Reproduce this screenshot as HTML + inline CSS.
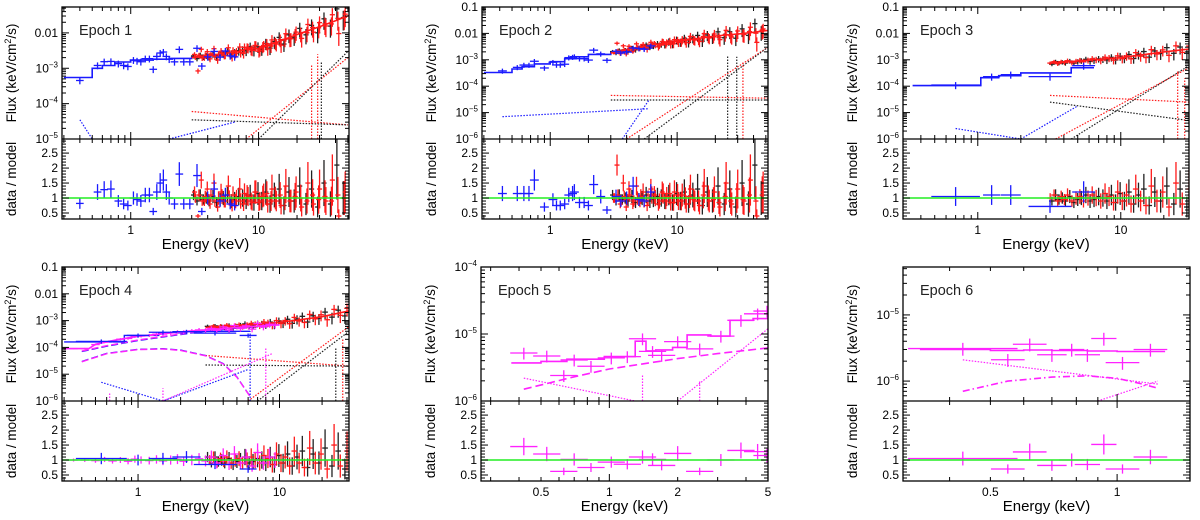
<!DOCTYPE html>
<html><head><meta charset="utf-8">
<style>
html,body{margin:0;padding:0;background:#fff;}
svg{display:block;font-family:"Liberation Sans",sans-serif;}
</style></head>
<body>
<svg id="fig" width="1200" height="520" viewBox="0 0 1200 520" xmlns="http://www.w3.org/2000/svg"></svg>
<script>
// ---------------- DATA ----------------
const nuGrid = [3.1,3.3,3.5,3.7,3.9,4.1,4.4,4.7,5,5.3,5.7,6.1,6.5,7,7.5,8,8.6,9.2,9.9,10.6,11.4,12.3,13.3,14.5,15.8,17.3,19,21,23.5,26,29,32.5,36.5,41,46];
const ratioBlackA = [1.1,0.9,1.1,0.95,1.0,0.9,1.05,0.85,0.95,1.0,1.1,0.9,0.95,1.05,1.0,0.9,1.1,0.85,1.15,0.9,1.2,0.8,1.1,1.3,0.75,1.2,0.9,1.4,0.8,1.3,0.7,1.5,0.8,2.1,1.0];
const ratioRedA = [1.0,1.1,0.9,1.05,0.95,1.1,0.9,1.0,1.05,0.9,1.0,1.1,1.0,0.9,1.15,1.05,0.85,1.2,0.9,1.1,0.8,1.3,0.9,0.75,1.4,0.9,1.2,0.7,1.5,0.8,1.3,0.9,1.6,0.4,1.2];

// Epoch 1
const e1BlueE = [0.4,0.55,0.62,0.7,0.8,0.88,0.95,1.05,1.12,1.2,1.3,1.4,1.5,1.6,1.7,1.8,1.9,2.0,2.2,2.4,2.6,2.9,3.3,3.6,4.0,4.5,5.0,5.5,6.0,6.5];
const e1BlueR = [0.82,1.2,1.28,1.3,0.9,0.8,0.75,1.0,0.95,0.9,1.1,1.1,0.55,1.2,1.5,1.6,1.2,1.0,0.8,1.8,0.8,0.8,1.75,0.55,1.0,1.3,0.9,1.1,0.8,0.75];
const e1BlueModelEdges = [0.3,0.5,0.6,0.75,1,1.5,2,3,4,5,6.5];
const e1BlueModelF = [5.5e-4,1e-3,1.2e-3,1.5e-3,1.7e-3,1.8e-3,1.9e-3,2.1e-3,2.3e-3,2.8e-3];
const e1NuModelE = [3,5,7,8,9,10,12,15,20,30,40,52];
const e1NuModelF = [2e-3,2.5e-3,3e-3,3.5e-3,3.8e-3,3.5e-3,4.5e-3,6e-3,9e-3,1.5e-2,2.2e-2,3.2e-2];

// Epoch 2
const e2BlueE = [0.42,0.55,0.62,0.68,0.75,0.9,1.05,1.12,1.2,1.3,1.4,1.5,1.55,1.7,1.85,2.0,2.2,2.5,2.8,3.3,3.6,4,4.5,5,5.5,6.2];
const e2BlueR = [1.15,1.15,1.15,1.15,1.6,0.7,0.95,0.75,0.75,0.8,1.1,1.15,1.2,0.85,0.85,0.75,1.45,1.05,0.6,1.05,0.9,1.0,1.4,0.95,0.9,1.2];
const e2BlueModelEdges = [0.3,0.5,0.6,0.75,1,1.3,1.6,2,3,4.5,6.5];
const e2BlueModelF = [3.3e-4,4.5e-4,5.5e-4,7e-4,8.5e-4,1.1e-3,1.3e-3,1.6e-3,2e-3,2.8e-3];
const e2NuModelE = [3,5,10,20,30,40,52];
const e2NuModelF = [1.8e-3,3e-3,5e-3,8e-3,9.5e-3,1.1e-2,1.3e-2];

// Epoch 3
const e3BlueE = [0.7,1.25,1.7,3.2,5.5];
const e3BlueR = [1.05,1.1,1.1,0.72,1.2];
const e3BlueModelEdges = [0.35,1.05,1.4,2,4.5,6.5];
const e3BlueModelF = [1.05e-4,2.1e-4,2.5e-4,3.2e-4,5e-4];
const e3NuModelE = [3.2,5,10,20,31];
const e3NuModelF = [7.5e-4,9e-4,1.2e-3,2e-3,2.6e-3];

// Epoch 4
const e4BlueE = [0.55,1.0,1.5,2.2,3.5,6.0];
const e4BlueR = [1.05,1.0,1.05,1.1,0.85,0.7];
const e4BlueModelEdges = [0.3,0.55,0.8,1.4,2.2,3.0,6.2];
const e4BlueModelF = [1.6e-4,1.6e-4,2.8e-4,3.5e-4,4e-4,4e-4];
const e4MagE = [0.35,0.42,0.5,0.58,0.66,0.75,0.85,0.95,1.05,1.2,1.35,1.5,1.7,1.9,2.1,2.4,2.7,3.0,3.3,3.6,4.0,4.4,4.8,5.3,5.8,6.4,7.0,7.7,8.5,9.3];
const e4MagR = [1.0,1.0,0.98,1.02,0.97,1.0,0.96,1.03,1.0,0.98,1.02,0.97,1.0,1.03,0.96,1.0,1.04,0.97,1.1,0.9,1.15,0.85,1.2,0.9,1.1,0.8,1.25,0.9,1.1,1.0];
const e4MagModelE = [0.3,0.45,0.5,0.7,1,2,3,5,8,10];
const e4MagModelF = [9e-5,9e-5,1.3e-4,1.9e-4,2.6e-4,3.8e-4,4.5e-4,5.5e-4,6.5e-4,7e-4];
const e4NuModelE = [3,5,10,20,31];
const e4NuModelF = [5.5e-4,6.5e-4,8.5e-4,1.4e-3,2.3e-3];
const e4BumpE = [0.4,0.6,1,1.5,2,3,4,5,6.2];
const e4BumpF = [3e-5,6e-5,8.5e-5,9e-5,8e-5,5e-5,2.5e-5,8e-6,1.5e-6];
const e4DashE = [0.4,0.6,1,2,3,5,8];
const e4DashF = [7e-5,1.1e-4,1.8e-4,3e-4,4e-4,5.2e-4,6e-4];

// Epoch 5
const e5E = [0.42,0.53,0.63,0.7,0.83,1.02,1.2,1.4,1.55,1.7,2.0,2.5,3.1,3.8,4.5,4.95];
const e5F = [5.2e-6,4.7e-6,2.4e-6,4.1e-6,3.3e-6,4.4e-6,4.6e-6,8.5e-6,5.5e-6,4.8e-6,7.7e-6,6e-6,9.3e-6,1.6e-5,2e-5,2.2e-5];
const e5R = [1.45,1.2,0.62,1.02,0.75,0.93,0.86,1.1,1.02,0.82,1.22,0.62,1.0,1.32,1.28,1.15];
const e5ModelEdges = [0.37,0.5,0.65,0.95,1.3,1.45,1.6,1.9,2.2,2.8,3.4,4.3,5];
const e5ModelF = [3.7e-6,3.9e-6,4.2e-6,4.6e-6,7.8e-6,5.6e-6,5.8e-6,6.3e-6,9.7e-6,9.3e-6,1.6e-5,1.7e-5];
const e5DashE = [0.42,0.7,1,1.5,2,3,5];
const e5DashF = [1.5e-6,2.3e-6,3e-6,3.7e-6,4.3e-6,5.1e-6,6.2e-6];

// Epoch 6
const e6E = [0.43,0.55,0.62,0.7,0.78,0.85,0.93,1.03,1.2];
const e6F = [3.1e-6,2.1e-6,3.6e-6,2.5e-6,3e-6,2.5e-6,4.4e-6,1.9e-6,3e-6];
const e6R = [1.05,0.7,1.27,0.82,1.0,0.85,1.52,0.7,1.1];
const e6ModelEdges = [0.34,0.5,0.6,0.7,0.78,0.85,0.93,1.0,1.15,1.3];
const e6ModelF = [3e-6,2.9e-6,2.95e-6,2.9e-6,2.9e-6,2.85e-6,2.85e-6,2.8e-6,2.8e-6];
const e6DashDotE = [0.43,0.55,0.7,0.85,1.0,1.15,1.25];
const e6DashDotF = [7e-7,1e-6,1.15e-6,1.2e-6,1.1e-6,9e-7,7.8e-7];

// ---------------- DRAWING ----------------
const NS = "http://www.w3.org/2000/svg";
const svg = document.getElementById('fig');
const L = Math.log10;
function mk(tag, attrs, parent){ const e=document.createElementNS(NS,tag); for(const k in attrs) e.setAttribute(k,attrs[k]); (parent||svg).appendChild(e); return e; }
function interp(xs, ys, x){
  if(x<=xs[0]) return ys[0]; if(x>=xs[xs.length-1]) return ys[ys.length-1];
  for(let i=1;i<xs.length;i++) if(x<=xs[i]){ const t=(L(x)-L(xs[i-1]))/(L(xs[i])-L(xs[i-1])); return Math.pow(10, L(ys[i-1])+t*(L(ys[i])-L(ys[i-1]))); }
}
const RED='#ff1a1a', BLK='#222', BLUE='#1a1aff', MAG='#ff22ff', GRN='#22ee22';

function makePanel(cfg){
  const g = mk('g',{});
  
  
  const {x0,x1,yt,ym,yb} = cfg;
  const sx = E => x0 + (L(E)-L(cfg.xmin))/(L(cfg.xmax)-L(cfg.xmin))*(x1-x0);
  const sy = F => ym - (L(F)-L(cfg.ymin))/(L(cfg.ymax)-L(cfg.ymin))*(ym-yt);
  const sr = r => yb - (r-cfg.rmin)/(cfg.rmax-cfg.rmin)*(yb-ym);
  const id = cfg.name+'-clip';
  const cp = mk('clipPath',{id:id+'t'},g); mk('rect',{x:x0,y:yt,width:x1-x0,height:ym-yt},cp);
  const cp2 = mk('clipPath',{id:id+'b'},g); mk('rect',{x:x0,y:ym,width:x1-x0,height:yb-ym},cp2);
  const top = mk('g',{'clip-path':`url(#${id}t)`},g);
  
  
  const bot = mk('g',{'clip-path':`url(#${id}b)`},g);
  
  
  const api = {
    line(E,F,color,dash,w){ const p=mk('path',{d:E.map((e,i)=>(i?'L':'M')+sx(e).toFixed(1)+' '+sy(F[i]).toFixed(1)).join(''),fill:'none',stroke:color,'stroke-width':w||1.2,'stroke-dasharray':dash||'none'},top);   },
    step(edges,F,color,w){ let d=''; for(let i=0;i<F.length;i++){ d+=(i?'L':'M')+sx(edges[i]).toFixed(1)+' '+sy(F[i]).toFixed(1)+'L'+sx(edges[i+1]).toFixed(1)+' '+sy(F[i]).toFixed(1);} const p=mk('path',{d,fill:'none',stroke:color,'stroke-width':w||1.6},top);   },
    crosses(E,F,R,color,xw,yerr){
      const gg=mk('g',{stroke:color,'stroke-width':1.3},top);  
      const gr=mk('g',{stroke:color,'stroke-width':1.3},bot);  
      E.forEach((e,i)=>{
        const w = Array.isArray(xw)?xw[i]:xw; const ye = typeof yerr==='function'?yerr(e):yerr;
        const xl=sx(e*Math.pow(10,-w)), xh=sx(e*Math.pow(10,w)), xc=sx(e);
        const f=F[i];
        mk('line',{x1:xl,x2:xh,y1:sy(f),y2:sy(f)},gg);
        mk('line',{x1:xc,x2:xc,y1:sy(f*(1+ye)),y2:sy(f*(1-ye))},gg);
        const r=R[i];
        mk('line',{x1:xl,x2:xh,y1:sr(r),y2:sr(r)},gr);
        mk('line',{x1:xc,x2:xc,y1:sr(r*(1+ye)),y2:sr(r*(1-ye))},gr);
      });
    },
    vline(E,F1,F2,color){ const p=mk('line',{x1:sx(E),x2:sx(E),y1:sy(F1),y2:sy(F2),stroke:color,'stroke-width':1.2,'stroke-dasharray':'1.5,1.5'},top);   }
  };
  cfg.draw(api);
  const u=mk('line',{x1:x0,x2:x1,y1:sr(1),y2:sr(1),stroke:GRN,'stroke-width':1.5},g);
   
  const fr=mk('rect',{x:x0,y:yt,width:x1-x0,height:yb-yt,fill:'none',stroke:'#000','stroke-width':1.3},g);
   
  mk('line',{x1:x0,x2:x1,y1:ym,y2:ym,stroke:'#000','stroke-width':1.3},g);
  const tk = mk('g',{stroke:'#000','stroke-width':1},g);
   
  for(let d=Math.floor(L(cfg.xmin)); d<=Math.ceil(L(cfg.xmax)); d++){
    for(let m=1;m<10;m++){ const v=m*Math.pow(10,d); if(v<cfg.xmin||v>cfg.xmax) continue; const x=sx(v); const len=m===1?7:4;
      [yt,ym].forEach(y=>mk('line',{x1:x,x2:x,y1:y,y2:y+len},tk));
      [ym,yb].forEach(y=>mk('line',{x1:x,x2:x,y1:y,y2:y-len},tk)); }
  }
  cfg.xticks.forEach(v=>{ const t=mk('text',{x:sx(v),y:yb+15,'font-size':12,'text-anchor':'middle',fill:'#000'},g); t.textContent=v;   });
  for(let d=Math.floor(L(cfg.ymin)); d<=Math.ceil(L(cfg.ymax)); d++){
    for(let m=1;m<10;m++){ const v=m*Math.pow(10,d); if(v<cfg.ymin*0.999||v>cfg.ymax*1.001) continue; const y=sy(v); const len=m===1?7:4;
      mk('line',{x1:x0,x2:x0+len,y1:y,y2:y},tk); mk('line',{x1:x1,x2:x1-len,y1:y,y2:y},tk); }
  }
  cfg.yticks.forEach(v=>{ const t=mk('text',{x:x0-4,y:sy(v)+4,'font-size':12,'text-anchor':'end',fill:'#000'},g);
     
    const ex=Math.round(L(v));
    if(ex>=-2){ t.textContent = ex===-1?'0.1':'0.01'; }
    else { t.appendChild(document.createTextNode('10')); const s=mk('tspan',{'font-size':8,dy:-5},t); s.textContent='−'+(-ex); }
  });
  for(let r=0.3;r<=cfg.rmax+1e-6;r+=0.1){ const rr=Math.round(r*10)/10; const y=sr(rr); const maj=Math.abs(rr*2-Math.round(rr*2))<1e-6; const len=maj?7:4;
    mk('line',{x1:x0,x2:x0+len,y1:y,y2:y},tk); mk('line',{x1:x1,x2:x1-len,y1:y,y2:y},tk); }
  [0.5,1,1.5,2,2.5].forEach(v=>{ const t=mk('text',{x:x0-4,y:sr(v)+4,'font-size':12,'text-anchor':'end',fill:'#000'},g); t.textContent=v;   });
  const xl=mk('text',{x:(x0+x1)/2,y:yb+30,'font-size':15,'text-anchor':'middle',fill:'#000'},g); xl.textContent='Energy (keV)';
   
  const lx=x0-46, fy=(yt+ym)/2;
  const fl=mk('text',{x:lx,y:fy,'font-size':13.5,'text-anchor':'middle',fill:'#000',transform:`rotate(-90 ${lx} ${fy})`},g);
   
  fl.appendChild(document.createTextNode('Flux (keV/cm')); const s2=mk('tspan',{'font-size':9,dy:-5},fl); s2.textContent='2'; const s3=mk('tspan',{dy:5},fl); s3.textContent='/s)';
  const ry=(ym+yb)/2;
  const rl=mk('text',{x:lx,y:ry,'font-size':13.5,'text-anchor':'middle',fill:'#000',transform:`rotate(-90 ${lx} ${ry})`},g); rl.textContent='data / model';
   
  const et=mk('text',{x:x0+17,y:yt+28,'font-size':14.5,fill:'#222'},g); et.textContent=cfg.title;
   
}

function nuPoints(api, modelE, modelF, emin, emax, ratios, color, shift){
  const E=[], R=[], F=[];
  nuGrid.forEach((e,i)=>{ const ee=e*shift; if(ee<emin||ee>emax) return; E.push(ee); R.push(ratios[i]); F.push(interp(modelE,modelF,ee)*ratios[i]); });
  api.crosses(E,F,R,color,0.02,e=>0.15+0.35*L(e/3));
}
function bluePts(api,E,R,edges,MF,xw,ye){
  const F=E.map((e,i)=>{ let k=0; while(k<MF.length-1 && e>edges[k+1]) k++; return MF[k]*R[i]; });
  api.crosses(E,F,R,BLUE,xw,ye);
}
const Y4=[0.1,0.01,1e-3,1e-4,1e-5,1e-6];

makePanel({name:'epoch-1-panel',title:'Epoch 1',x0:62,x1:349,yt:7,ym:139,yb:219,xmin:0.29,xmax:51,ymin:1e-5,ymax:0.054,rmin:0.3,rmax:2.97,xticks:[1,10],yticks:[0.01,1e-3,1e-4,1e-5],
 draw(a){
  a.line([3,50],[6e-5,2.5e-5],RED,'1.5,1.5'); a.line([3,50],[3.5e-5,2.5e-5],BLK,'1.5,1.5');
  a.line([0.4,0.5],[3.5e-5,1e-5],BLUE,'1.5,1.5'); a.line([2,6.5],[1e-5,3e-5],BLUE,'1.5,1.5');
  a.line([8,50],[1e-5,2e-3],RED,'1.5,1.5'); a.line([10,50],[1e-5,3e-3],BLK,'1.5,1.5');
  a.vline(26,1e-5,1.2e-3,RED); a.vline(29,1e-5,2.5e-3,RED); a.vline(31,1e-5,1.5e-3,BLK);
  a.step(e1BlueModelEdges,e1BlueModelF,BLUE);
  nuPoints(a,e1NuModelE,e1NuModelF,3,52,ratioBlackA,BLK,1); nuPoints(a,e1NuModelE,e1NuModelF,3,52,ratioRedA,RED,1.035);
  nuPoints(a,e1NuModelE,e1NuModelF,3,52,ratioRedA.slice().reverse(),RED,1.018);
  a.line(e1NuModelE,e1NuModelF,RED,null,1.6);
  bluePts(a,e1BlueE,e1BlueR,e1BlueModelEdges,e1BlueModelF,0.03,0.22);
 }});

makePanel({name:'epoch-2-panel',title:'Epoch 2',x0:482,x1:768,yt:7,ym:139,yb:219,xmin:0.29,xmax:52,ymin:1e-6,ymax:0.1,rmin:0.3,rmax:2.97,xticks:[1,10],yticks:Y4,
 draw(a){
  a.line([3,52],[4.5e-5,3.5e-5],RED,'1.5,1.5'); a.line([3,52],[3e-5,3e-5],BLK,'1.5,1.5');
  a.line([0.42,6],[7e-6,1.4e-5],BLUE,'1.5,1.5'); a.line([3.7,6],[1e-6,3e-5],BLUE,'1.5,1.5');
  a.line([4,52],[1e-6,3e-3],RED,'1.5,1.5'); a.line([5.5,52],[1e-6,3e-3],BLK,'1.5,1.5');
  a.vline(25,1e-6,1.5e-3,BLK); a.vline(29.5,1e-6,1.3e-3,BLK); a.vline(33,1e-6,8e-4,RED);
  a.step(e2BlueModelEdges,e2BlueModelF,BLUE);
  nuPoints(a,e2NuModelE,e2NuModelF,3,52,ratioBlackA,BLK,1); nuPoints(a,e2NuModelE,e2NuModelF,3,52,ratioRedA,RED,1.035);
  nuPoints(a,e2NuModelE,e2NuModelF,3,52,ratioBlackA.slice().reverse(),RED,1.018);
  a.line(e2NuModelE,e2NuModelF,RED,null,1.6);
  bluePts(a,e2BlueE,e2BlueR,e2BlueModelEdges,e2BlueModelF,0.035,0.22);
 }});

makePanel({name:'epoch-3-panel',title:'Epoch 3',x0:903,x1:1189,yt:7,ym:139,yb:219,xmin:0.3,xmax:30,ymin:1e-6,ymax:0.1,rmin:0.3,rmax:2.97,xticks:[1,10],yticks:Y4,
 draw(a){
  a.line([3.2,30],[4.5e-5,2.5e-5],RED,'1.5,1.5'); a.line([3.2,30],[2.5e-5,5e-6],BLK,'1.5,1.5');
  a.line([0.7,2,5],[2.5e-6,1e-6,1.8e-5],BLUE,'1.5,1.5');
  a.line([3.5,30],[1e-6,5e-4],RED,'1.5,1.5'); a.line([4.5,30],[1e-6,6e-4],BLK,'1.5,1.5');
  a.vline(25,1e-6,4e-4,RED); a.vline(28,1e-6,2e-4,RED);
  a.step(e3BlueModelEdges,e3BlueModelF,BLUE);
  nuPoints(a,e3NuModelE,e3NuModelF,3.2,31,ratioBlackA,BLK,1); nuPoints(a,e3NuModelE,e3NuModelF,3.2,31,ratioRedA,RED,1.035);
  a.line(e3NuModelE,e3NuModelF,RED,null,1.6);
  bluePts(a,e3BlueE,e3BlueR,e3BlueModelEdges,e3BlueModelF,[0.17,0.06,0.07,0.15,0.08],0.3);
 }});

makePanel({name:'epoch-4-panel',title:'Epoch 4',x0:62,x1:349,yt:267,ym:401,yb:481,xmin:0.29,xmax:31,ymin:1e-6,ymax:0.1,rmin:0.3,rmax:2.97,xticks:[1,10],yticks:Y4,
 draw(a){
  a.line([3,31],[5e-5,2e-5],RED,'1.5,1.5'); a.line([3,31],[2.2e-5,2e-5],BLK,'1.5,1.5');
  a.line([0.55,1.5,6],[5e-6,1e-6,1.5e-5],BLUE,'1.5,1.5'); a.line([1.5,9],[1e-6,6e-5],MAG,'1.5,1.5');
  a.line([6,31],[1e-6,6e-4],RED,'1.5,1.5'); a.line([7,31],[1e-6,4e-4],BLK,'1.5,1.5');
  a.vline(8,1e-6,1e-4,MAG); a.vline(1.5,1e-6,3e-6,MAG); a.vline(0.63,1e-6,2e-6,MAG);
  a.vline(25,1e-6,1e-4,BLK); a.vline(28,1e-6,2e-4,RED);
  a.line(e4BumpE,e4BumpF,BLUE,'7,3'); a.line(e4BumpE,e4BumpF.map(f=>f*0.97),MAG,'7,3',1.4);
  a.line(e4DashE,e4DashF,BLUE,'7,3'); a.line(e4DashE,e4DashF.map(f=>f*1.05),MAG,'7,3',1.4);
  a.step(e4BlueModelEdges,e4BlueModelF,BLUE,1.4); a.vline(6.2,1e-6,4e-4,BLUE);
  nuPoints(a,e4NuModelE,e4NuModelF,3,31,ratioBlackA,BLK,1); nuPoints(a,e4NuModelE,e4NuModelF,3,31,ratioRedA,RED,1.035);
  a.line(e4NuModelE,e4NuModelF,RED,null,1.6);
  a.line(e4MagModelE,e4MagModelF,MAG,null,1.6);
  a.crosses(e4MagE,e4MagE.map((e,i)=>interp(e4MagModelE,e4MagModelF,e)*e4MagR[i]),e4MagR,MAG,0.03,e=>0.04+0.15*L(e/0.3));
  bluePts(a,e4BlueE,e4BlueR,e4BlueModelEdges,e4BlueModelF,[0.18,0.08,0.1,0.1,0.15,0.06],0.18);
 }});

makePanel({name:'epoch-5-panel',title:'Epoch 5',x0:481,x1:768,yt:267,ym:401,yb:481,xmin:0.272,xmax:5,ymin:1e-6,ymax:1e-4,rmin:0.3,rmax:2.97,xticks:[0.5,1,2,5],yticks:[1e-4,1e-5,1e-6],
 draw(a){
  a.line([0.42,1.3],[2.2e-6,1e-6],MAG,'1.5,1.5'); a.line([2,5],[1e-6,1.2e-5],MAG,'1.5,1.5');
  a.vline(1.4,1e-6,2.4e-6,MAG); a.vline(2.5,1e-6,2e-6,MAG);
  a.line(e5DashE,e5DashF,MAG,'8,4',1.6);
  a.step(e5ModelEdges,e5ModelF,MAG,1.6);
  a.crosses(e5E,e5F,e5R,MAG,0.06,0.2);
 }});

makePanel({name:'epoch-6-panel',title:'Epoch 6',x0:903,x1:1190,yt:267,ym:401,yb:481,xmin:0.31,xmax:1.49,ymin:5e-7,ymax:5.3e-5,rmin:0.3,rmax:2.97,xticks:[0.5,1],yticks:[1e-5,1e-6],
 draw(a){
  a.line([0.43,1.25],[2.1e-6,9e-7],MAG,'1.5,1.5'); a.line([0.9,1.25],[5e-7,1e-6],MAG,'1.5,1.5');
  a.line(e6DashDotE,e6DashDotF,MAG,'7,3,1.5,3',1.6);
  a.step(e6ModelEdges,e6ModelF,MAG,1.6);
  a.crosses(e6E,e6F,e6R,MAG,[0.13,0.04,0.04,0.035,0.03,0.03,0.03,0.04,0.04],0.22);
 }});
</script>
</body></html>
